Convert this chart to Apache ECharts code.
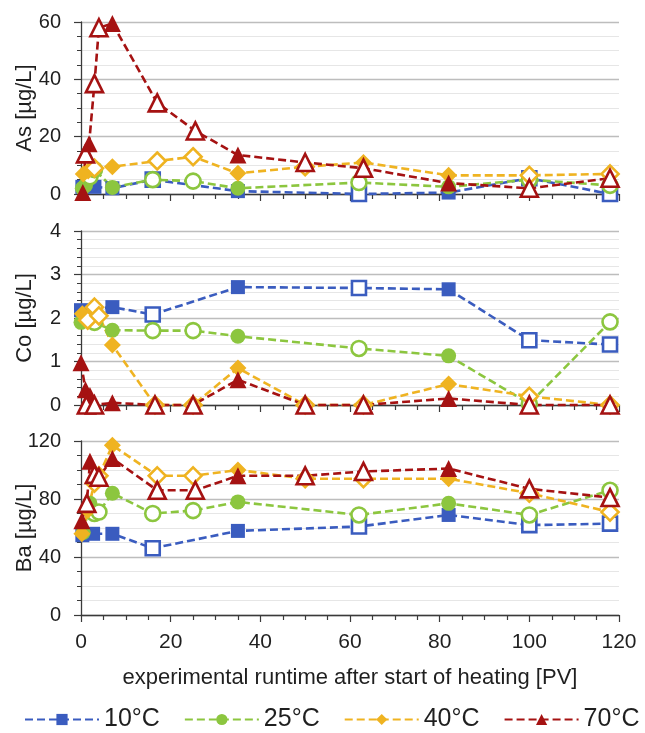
<!DOCTYPE html>
<html>
<head>
<meta charset="utf-8">
<script src="https://cdn.jsdelivr.net/npm/echarts@6/dist/echarts.min.js"></script>
<style>
  html, body { margin: 0; padding: 0; background: #fff; }
  #chart { width: 645px; height: 733px; }
</style>
</head>
<body>
<div id="chart"></div>
<script>
// each point: [runtime PV, value, filled (1) or open (0)]
var as10 = [[0.3, 2.5, 1], [3, 2.5, 1], [7, 2, 1], [16, 5, 0], [35, 1, 1], [62, 0, 0], [82, 0.5, 1], [100, 5.5, 0], [118, 0, 0]];
var as25 = [[0.3, 2, 1], [1, 3, 1], [2, 6, 0], [3, 8.5, 0], [7, 2.3, 1], [16, 5, 0], [25, 4.5, 0], [35, 2, 1], [62, 4, 0], [82, 2.5, 1], [100, 5, 0], [118, 3, 0]];
var as40 = [[0.5, 7, 1], [1.6, 8, 1], [3, 9, 0], [7, 9.5, 1], [17, 11.5, 0], [25, 13, 0], [35, 7.2, 1], [50, 9.5, 0], [63, 11, 1], [82, 6.5, 1], [100, 6.5, 0], [118, 7, 0]];
var as70 = [[0.4, 0.5, 1], [1, 14, 0], [1.8, 17.5, 1], [3, 38.5, 0], [4, 58, 0], [7, 59.5, 1], [17, 31.8, 0], [25.5, 22, 0], [35, 13.6, 1], [50, 11, 0], [63, 9, 0], [82, 3.8, 1], [100, 2, 0], [118, 5.5, 0]];

var co10 = [[0, 2.18, 1], [7, 2.25, 1], [16, 2.08, 0], [35, 2.71, 1], [62, 2.69, 0], [82, 2.66, 1], [100, 1.49, 0], [118, 1.39, 0]];
var co25 = [[0, 1.9, 1], [1, 1.95, 1], [2, 2.0, 0], [3, 1.9, 0], [7, 1.72, 1], [16, 1.71, 0], [25, 1.71, 0], [35, 1.58, 1], [62, 1.3, 0], [82, 1.13, 1], [100, 0.03, 0], [118, 1.91, 0]];
var co40 = [[0.3, 2.1, 1], [1.5, 1.95, 0], [3, 2.25, 0], [4, 2.05, 0], [7, 1.38, 1], [16.5, 0, 0], [25, 0, 0], [35, 0.85, 1], [50, 0, 0], [63, 0, 0], [82, 0.48, 1], [100, 0.2, 0], [118, 0, 0]];
var co70 = [[0, 0.97, 1], [1, 0.35, 1], [2, 0.22, 1], [1.2, 0, 0], [3, 0, 0], [7, 0.05, 1], [16.5, 0, 0], [25, 0, 0], [35, 0.58, 1], [50, 0, 0], [63, 0, 0], [82, 0.15, 1], [100, 0, 0], [118, 0, 0]];

var ba10 = [[0.3, 55, 1], [2.7, 56, 1], [7, 56, 1], [16, 46, 0], [35, 58, 1], [62, 61, 0], [82, 69, 1], [100, 62, 0], [118, 63, 0]];
var ba25 = [[0.5, 57, 1], [2, 77, 1], [3, 70, 0], [4, 71, 0], [7, 84, 1], [16, 70, 0], [25, 72, 0], [35, 78, 1], [62, 69, 0], [82, 77, 1], [100, 69, 0], [118, 86, 0]];
var ba40 = [[0.2, 56, 1], [1.5, 72, 1], [3, 91, 0], [4, 96, 0], [7, 117, 1], [17, 96, 0], [25, 96, 0], [35, 100, 1], [50, 94, 0], [63, 94, 0], [82, 94, 1], [100, 84, 0], [118, 71, 0]];
var ba70 = [[0.2, 65, 1], [1.3, 77, 0], [2, 106, 1], [3, 97, 0], [4, 95, 0], [7, 108, 1], [17, 86, 0], [25.5, 86, 0], [35, 96, 1], [50, 96, 0], [63, 99, 0], [82, 101, 1], [100, 87, 0], [118, 81, 0]];

var tempNames = ['10°C', '25°C', '40°C', '70°C'];
var tempColors = ['#3a5cbf', '#8cc63f', '#efb321', '#a51212'];
var tempSymbols = ['rect', 'circle', 'diamond', 'triangle'];
var yNames = ['As [µg/L]', 'Co [µg/L]', 'Ba [µg/L]'];
var yMax = [60, 4, 120];
var yInterval = [20, 1, 40];
var yMinor = [4, 5, 4];

var panels = [[as10, as25, as40, as70], [co10, co25, co40, co70], [ba10, ba25, ba40, ba70]];
var gridTops = [22, 231, 441];
var gridHeights = [172, 174, 174];

var textColor = '#1f1f1f';
var font = 'Liberation Sans';

function makeSeries(pts, k, p) {
  var col = tempColors[k];
  var sizes = { rect: 14, circle: 15, diamond: 17, triangle: 17 };
  var data = pts.map(function(d) {
    var item = { value: [d[0], d[1]] };
    if (!d[2]) {
      item.itemStyle = { color: '#fff', borderColor: col, borderWidth: 2.6 };
    }
    return item;
  });
  return {
    name: tempNames[k],
    type: 'line',
    xAxisIndex: p,
    yAxisIndex: p,
    data: data,
    symbol: tempSymbols[k],
    symbolSize: sizes[tempSymbols[k]],
    clip: false,
    color: col,
    lineStyle: { color: col, width: 2.6, type: [8, 4] },
    itemStyle: { color: col },
    emphasis: { disabled: true }
  };
}

var grids = [], xAxes = [], yAxes = [], series = [];
for (var p = 0; p < 3; p++) {
  grids.push({ left: 81, right: 26, top: gridTops[p], height: gridHeights[p], containLabel: false, outerBoundsMode: 'none' });
  xAxes.push({
    type: 'value',
    gridIndex: p,
    min: 0,
    max: 120,
    interval: 20,
    axisLine: { onZero: false, lineStyle: { color: '#3a3a3a', width: 1.3 } },
    axisTick: { show: true, length: 7, lineStyle: { color: '#3a3a3a', width: 1.2 } },
    minorTick: { show: true, splitNumber: 4, length: 5, lineStyle: { color: '#3a3a3a', width: 1.2 } },
    splitLine: { show: false },
    axisLabel: { show: p == 2, fontSize: 21, color: textColor, margin: 17, fontFamily: font },
    name: p == 2 ? 'experimental runtime after start of heating [PV]' : '',
    nameLocation: 'middle',
    nameGap: 52,
    nameTextStyle: { fontSize: 22, color: textColor, fontFamily: font }
  });
  yAxes.push({
    type: 'value',
    gridIndex: p,
    min: 0,
    max: yMax[p],
    interval: yInterval[p],
    axisLine: { show: true, onZero: false, lineStyle: { color: '#3a3a3a', width: 1.3 } },
    axisTick: { show: true, length: 7, lineStyle: { color: '#3a3a3a', width: 1.2 } },
    minorTick: { show: true, splitNumber: yMinor[p], length: 4, lineStyle: { color: '#3a3a3a', width: 1 } },
    splitLine: { show: true, lineStyle: { color: '#bdbdbd', width: 1.4 } },
    minorSplitLine: { show: true, lineStyle: { color: '#e6e6e6', width: 1 } },
    axisLabel: { fontSize: 20, color: textColor, margin: 20, fontFamily: font },
    name: yNames[p],
    nameLocation: 'middle',
    nameMoveOverlap: false,
    nameGap: 45,
    nameTextStyle: { fontSize: 22, color: textColor, fontFamily: font }
  });
  for (var k = 0; k < 4; k++) {
    series.push(makeSeries(panels[p][k], k, p));
  }
}

var myChart = echarts.init(document.getElementById('chart'));
var option = {
  animation: false,
  backgroundColor: '#fff',
  legend: {
    data: tempNames,
    top: 707,
    left: 24,
    padding: 0,
    itemWidth: 74,
    itemHeight: 14,
    itemGap: 24,
    textStyle: { fontSize: 25, color: textColor, fontFamily: font }
  },
  grid: grids,
  xAxis: xAxes,
  yAxis: yAxes,
  series: series
};
myChart.setOption(option);
</script>
</body>
</html>
